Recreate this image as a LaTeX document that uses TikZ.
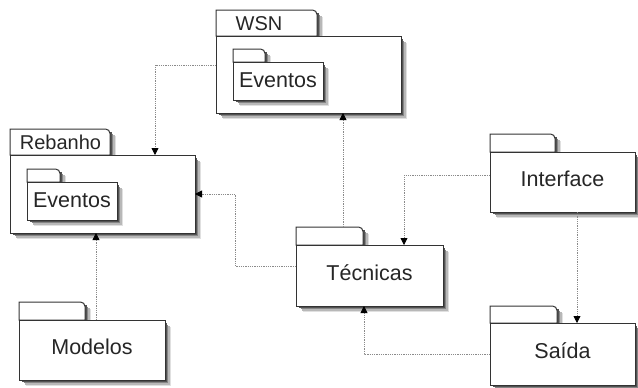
\documentclass[tikz,border=0pt]{standalone}
\usepackage{fontspec}
\setmainfont{Liberation Sans}
\usetikzlibrary{arrows.meta}
\definecolor{linec}{HTML}{333333}
\definecolor{txtc}{HTML}{262626}
\definecolor{connc}{HTML}{8A8A8A}
\tikzset{
  pkgbody/.style={draw=linec, fill=white, line width=1pt, anchor=north west,
    inner sep=0pt, outer sep=0pt, text=txtc, font=\fontsize{21.5}{24}\selectfont, text depth=6pt},
  tabnode/.style={anchor=south west, inner sep=0pt, outer sep=0pt},
  tabsty/.style={draw=linec, fill=white, line width=1pt},
  tablbl/.style={text=txtc, font=\fontsize{20}{22}\selectfont, inner sep=0pt},
  shadline/.style={line width=1.6pt, line cap=butt},
  conn/.style={draw=connc, line width=0.8pt, dash pattern=on 1pt off 0.8pt,
    -{Triangle[length=7pt,width=7pt,color=black]}}
}
% #1 options for body, #2 name, #3 x, #4 y of body top, #5 w, #6 h, #7 tab w, #8 tab h, #9 text
\newcommand\pkgdraw[9][]{%
  \foreach \s/\c in {5.4/12,4/28,2.6/48,1.2/68}{%
    \draw[shadline, black!\c] (#3+#7+\s,#4-#8+\s+2) -- (#3+#7+\s,#4);}
  \node[tabnode, minimum width=#7pt, minimum height=#8pt] (#2T) at (#3,#4) {};
  \draw[tabsty] (#2T.south west) -- (#2T.north west) -- ([xshift=-4.5pt]#2T.north east) arc[start angle=90,end angle=0,radius=4.5pt] -- (#2T.south east) -- cycle;
  \foreach \s/\c in {5.4/12,4/28,2.6/48,1.2/68}{%
    \draw[shadline, black!\c] (#3+\s+2,#4+#6+\s) -- (#3+#5+\s,#4+#6+\s) -- (#3+#5+\s,#4+\s+2);}
  \node[pkgbody, minimum width=#5pt, minimum height=#6pt, #1] (#2) at (#3,#4) {#9};
}
\begin{document}
\begin{tikzpicture}[x=1pt,y=-1pt]
\useasboundingbox (0,0) rectangle (638,388);
\pkgdraw{wsn}{216}{36}{185}{77}{101}{26}{}
\node[tablbl] (wsnL) at (259,23.5) {WSN};
\pkgdraw[text depth=2pt]{wsnE}{233}{62}{90}{38}{32}{13}{Eventos}
\pkgdraw{reb}{10}{155}{185}{78}{100}{26}{}
\node[tablbl] (rebL) at (60.5,142.5) {Rebanho};
\pkgdraw[text depth=2pt]{rebE}{27}{182}{90}{38}{33}{13}{Eventos}
\pkgdraw{tec}{296}{245}{147}{61}{67}{18}{Técnicas}
\pkgdraw{int}{490}{152}{145}{60}{65}{18}{Interface}
\pkgdraw{sai}{490}{323}{145}{62}{67}{17}{Saída}
\pkgdraw{mod}{19}{320}{146}{60}{66}{18}{Modelos}
% connectors
\coordinate (a1) at ([yshift=9.5pt]wsn.west);
\coordinate (b1) at ([xshift=52.5pt]reb.north);
\draw[conn] (a1) -| (b1);
\coordinate (a2) at ([xshift=13.5pt]tecT.north);
\draw[conn] (a2) -- (a2 |- wsn.south);
\coordinate (a3) at ([yshift=9.5pt]tec.west);
\draw[conn] (a3) -- ++(-61pt,0) |- (reb.east);
\coordinate (a4) at ([xshift=4pt]mod.north);
\draw[conn] (a4) -- (a4 |- reb.south);
\coordinate (a5) at ([yshift=7pt]int.west);
\coordinate (b5) at ([xshift=34.5pt]tec.north);
\draw[conn] (a5) -| (b5);
\coordinate (a6) at ([xshift=14.5pt]int.south);
\draw[conn] (a6) -- (a6 |- sai.north);
\coordinate (b7) at ([xshift=-5.5pt]tec.south);
\draw[conn] (sai.west) -| (b7);
\end{tikzpicture}
\end{document}
